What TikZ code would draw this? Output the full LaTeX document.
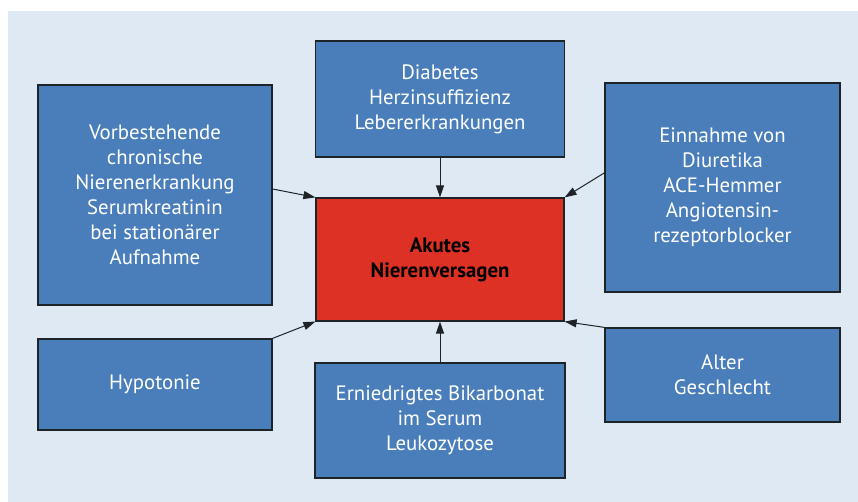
\documentclass[tikz,border=0pt]{standalone}
\usepackage{fontspec}
\setmainfont{PT Sans}
\usetikzlibrary{arrows.meta}
\definecolor{ANVPanel}{HTML}{DFE9F3}
\definecolor{ANVBlue}{HTML}{4A7EBB}
\definecolor{ANVRed}{HTML}{DC3124}
\definecolor{ANVEdge}{HTML}{1E2328}
\begin{document}
\begin{tikzpicture}[x=0.75pt,y=0.75pt,
  factor/.style={draw=ANVEdge,fill=ANVBlue,line width=.9pt,text=white,align=center,
    font=\fontsize{15.6}{18.75}\selectfont,inner sep=0pt},
  outcome/.style={factor,fill=ANVRed,text=black,font=\fontsize{15.6}{18.75}\selectfont\bfseries},
  link/.style={-{Triangle[length=9pt,width=6pt]},line width=.75pt,draw=ANVEdge}]
\path[use as bounding box] (0,0) rectangle (858,502);
\fill[white] (0,0) rectangle (858,502);
\fill[ANVPanel] (8,0) rectangle (858,491);
% centre
\node[outcome,minimum width=186pt,minimum height=92.25pt] (anv) at (440,242.5) {Akutes\\Nierenversagen};
% risk factors
\node[factor,minimum width=175.5pt,minimum height=165pt] (vor) at (155,307)
  {Vorbestehende\\chronische\\Nierenerkrankung\\Serumkreatinin\\bei stationärer\\Aufnahme};
\node[factor,minimum width=175.5pt,minimum height=68.25pt] (hypo) at (155,117.5) {Hypotonie};
\node[factor,minimum width=186.75pt,minimum height=87pt] (dia) at (440,403)
  {Diabetes\\Herzinsuffizienz\\Lebererkrankungen};
\node[factor,minimum width=187.5pt,minimum height=86.25pt] (ern) at (440,81.5)
  {Erniedrigtes Bikarbonat\\im Serum\\Leukozytose};
\node[factor,minimum width=176.25pt,minimum height=156.75pt] (ein) at (722.5,314.5)
  {Einnahme von\\Diuretika\\ACE-Hemmer\\Angiotensin-\\rezeptorblocker};
\node[factor,minimum width=176.25pt,minimum height=70.5pt] (alt) at (722.5,127) {Alter\\Geschlecht};
% arrows
\draw[link] (dia.south) -- (anv.north);
\draw[link] (ern.north) -- (anv.south);
\draw[link] ([yshift=4.5pt]vor.east) -- (anv.north west);
\draw[link] (hypo.north east) -- (anv.south west);
\draw[link] ([yshift=11pt]ein.west) -- (anv.north east);
\draw[link] (alt.north west) -- (anv.south east);
\end{tikzpicture}
\end{document}
